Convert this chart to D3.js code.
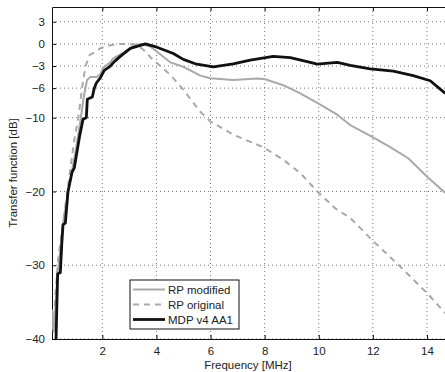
<!DOCTYPE html>
<html>
<head>
<meta charset="utf-8">
<script src="https://cdn.jsdelivr.net/npm/d3@7"></script>
<style>
  body { margin: 0; background: #fff; }
  text { font-family: "Liberation Sans", Arial, sans-serif; }
</style>
</head>
<body>
<div id="container"></div>
<script>
//CONSTANTS AND GLOBALS
const width = 445,
    height = 372,
    margin = {top: 7, bottom: 33, left: 52, right: -9};

// tick values
const xTicks = [2, 4, 6, 8, 10, 12, 14];
const yTicks = [3, 0, -3, -6, -10, -20, -30, -40];

// series: frequency [MHz] and transfer function [dB]
const mdpFreq = [0.289, 0.348, 0.448, 0.503, 0.548, 0.633, 0.732, 0.880, 0.965, 1.161, 1.287, 1.409, 1.446, 1.630, 1.704, 1.778, 1.926, 2.074, 2.296, 2.443, 2.665, 3.035, 3.589, 4.021, 4.624, 4.993, 5.437, 6.102, 6.841, 7.469, 8.319, 8.948, 9.687, 9.945, 10.684, 11.165, 11.904, 12.754, 13.493, 14.121, 14.676];
const mdpDb   = [-40, -31.2, -31, -27, -24.5, -24.3, -20, -17.4, -16.8, -12.5, -10.2, -10, -7.5, -7.2, -6, -5.3, -4.6, -3.6, -3.0, -2.4, -1.7, -0.6, 0, -0.45, -1.3, -2.1, -2.7, -3.1, -2.7, -2.2, -1.7, -1.85, -2.5, -2.75, -2.5, -2.9, -3.4, -3.7, -4.3, -5.0, -6.7];

const modFreq = [0.152, 0.200, 0.263, 0.355, 0.448, 0.559, 0.744, 0.891, 1.039, 1.187, 1.309, 1.435, 1.557, 1.804, 1.926, 2.037, 2.296, 2.407, 2.776, 3.146, 3.404, 3.774, 4.513, 4.993, 5.622, 5.991, 6.841, 7.728, 8.024, 8.689, 9.317, 9.945, 10.684, 11.165, 11.978, 12.643, 13.308, 14.010, 14.676];
const modDb   = [-36, -39, -36, -31, -28, -24, -20, -17, -14, -10.5, -7.3, -4.9, -4.5, -4.5, -4.1, -3.2, -2.5, -1.95, -1.2, -0.3, 0, -0.35, -2.5, -3.1, -4.3, -4.65, -4.9, -4.7, -4.8, -5.6, -6.7, -8.0, -9.6, -11.0, -12.6, -14.0, -15.5, -18.0, -20.2];

const origFreq = [0.152, 0.200, 0.263, 0.374, 0.522, 0.707, 0.854, 0.965, 1.113, 1.250, 1.372, 1.531, 1.741, 1.926, 2.174, 2.543, 2.776, 3.282, 3.589, 3.774, 4.021, 4.513, 4.993, 5.326, 5.622, 5.991, 6.841, 7.950, 8.689, 9.317, 9.945, 10.611, 11.165, 11.978, 13.017, 14.010, 14.676];
const origDb   = [-38, -39, -34, -29, -25, -20, -16, -13, -10, -6, -3.1, -1.5, -1.1, -0.6, -0.3, 0, 0, -0.1, -1.0, -1.8, -2.6, -4.2, -6.2, -7.8, -9.2, -10.5, -12.3, -14.0, -15.7, -17.5, -20, -22.3, -23.6, -26.6, -30.2, -33.8, -36.5];

const series = [
  {name: "RP modified", freq: modFreq, db: modDb, color: "#a9a9a9", w: 2, dash: null},
  {name: "RP original", freq: origFreq, db: origDb, color: "#a9a9a9", w: 2, dash: "6,5"},
  {name: "MDP v4 AA1", freq: mdpFreq, db: mdpDb, color: "#111", w: 2.8, dash: null}
];

//SCALES
const xScale = d3.scaleLinear()
  .domain([0.14, 15])
  .range([margin.left, width - margin.right]);

const yScale = d3.scaleLinear()
  .domain([-40, 5])
  .range([height - margin.bottom, margin.top]);

const svg = d3.select("#container")
  .append("svg")
  .attr("width", width)
  .attr("height", height);

const x0 = margin.left, x1 = width - margin.right,
      y0 = margin.top, y1 = height - margin.bottom;

svg.append("defs").append("clipPath").attr("id", "plot")
  .append("rect").attr("x", x0).attr("y", y0).attr("width", x1 - x0).attr("height", y1 - y0);

// grid
svg.append("g").selectAll("line")
  .data(xTicks)
  .join("line")
  .attr("x1", d => xScale(d)).attr("x2", d => xScale(d))
  .attr("y1", y0).attr("y2", y1)
  .attr("stroke", "#555").attr("stroke-width", 0.8)
  .attr("stroke-dasharray", "1,3");

svg.append("g").selectAll("line")
  .data(yTicks)
  .join("line")
  .attr("x1", x0).attr("x2", x1)
  .attr("y1", d => yScale(d)).attr("y2", d => yScale(d))
  .attr("stroke", "#555").attr("stroke-width", 0.8)
  .attr("stroke-dasharray", "1,3");

// axes (inner ticks)
const xAxis = d3.axisBottom(xScale).tickValues(xTicks).tickSizeInner(-4).tickSizeOuter(0).tickPadding(8);
const yAxis = d3.axisLeft(yScale).tickValues(yTicks).tickSizeInner(-4).tickSizeOuter(0).tickPadding(7)
  .tickFormat(d => d < 0 ? "\u2212" + Math.abs(d) : d);

svg.append("g")
  .attr("transform", `translate(0, ${y1})`)
  .call(xAxis)
  .call(g => g.selectAll("text").attr("font-size", 11.5).attr("fill", "#222").attr("font-family", "Liberation Sans, Arial, sans-serif"));

svg.append("g")
  .attr("transform", `translate(${x0}, 0)`)
  .call(yAxis)
  .call(g => g.selectAll("text").attr("font-size", 11.5).attr("fill", "#222").attr("font-family", "Liberation Sans, Arial, sans-serif"));

// top border with ticks
svg.append("g")
  .attr("transform", `translate(0, ${y0})`)
  .call(d3.axisTop(xScale).tickValues(xTicks).tickSizeInner(-4).tickSizeOuter(0).tickFormat(""));

svg.selectAll(".domain").attr("stroke", "#111");

// lines
const lineGen = d3.line()
  .x(d => xScale(d[0]))
  .y(d => yScale(d[1]));

svg.append("g").attr("clip-path", "url(#plot)")
  .selectAll("path.line")
  .data(series)
  .join("path")
  .attr("class", "line")
  .attr("fill", "none")
  .attr("stroke", d => d.color)
  .attr("stroke-width", d => d.w)
  .attr("stroke-dasharray", d => d.dash)
  .attr("stroke-linejoin", "round")
  .attr("d", d => lineGen(d.freq.map((f, i) => [f, d.db[i]])));

// axis labels
svg.append("text")
  .attr("x", 248).attr("y", 369)
  .attr("text-anchor", "middle")
  .attr("font-size", 11.5).attr("fill", "#222")
  .text("Frequency [MHz]");

svg.append("text")
  .attr("transform", `translate(17, ${(y0 + y1) / 2}) rotate(-90)`)
  .attr("text-anchor", "middle")
  .attr("font-size", 11.5).attr("fill", "#222")
  .text("Transfer function [dB]");

// legend
const legend = svg.append("g").attr("transform", "translate(130, 280)");
legend.append("rect")
  .attr("width", 109).attr("height", 49)
  .attr("fill", "#fff").attr("stroke", "#111").attr("stroke-width", 1);

const item = legend.selectAll("g.item")
  .data(series)
  .join("g")
  .attr("class", "item")
  .attr("transform", (d, i) => `translate(0, ${9.5 + i * 15})`);

item.append("line")
  .attr("x1", 3).attr("x2", 35)
  .attr("stroke", d => d.color)
  .attr("stroke-width", d => d.w)
  .attr("stroke-dasharray", d => d.dash);

item.append("text")
  .attr("x", 38).attr("y", 4)
  .attr("font-size", 11.5).attr("fill", "#222")
  .text(d => d.name);
</script>
</body>
</html>
